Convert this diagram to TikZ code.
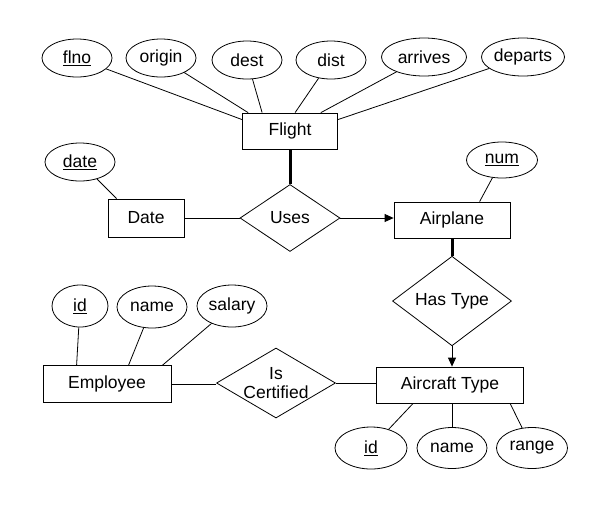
\documentclass[tikz,border=0pt]{standalone}
\usepackage{fontspec}
\setmainfont{Liberation Sans}
\usetikzlibrary{shapes.geometric,arrows.meta}
\begin{document}
\begin{tikzpicture}[x=1pt,y=-1pt,
 every node/.style={font=\fontsize{17.5}{20}\selectfont},
 attr/.style={draw,ellipse,inner sep=0pt,minimum width=70pt,minimum height=38pt,line width=0.8pt},
 entity/.style={draw,rectangle,inner sep=0pt,minimum height=36pt,line width=0.8pt},
 rel/.style={draw,diamond,inner sep=0pt,line width=0.8pt,align=center},
 link/.style={line width=0.8pt},
 boldlink/.style={line width=3pt},
 arrowlink/.style={line width=0.8pt,-{Triangle[length=9pt,width=8pt]}}]
\useasboundingbox (0,0) rectangle (604,507);
% Flight and its attributes
\node[attr] (flno) at (77,58) {\underline{flno}};
\node[attr] (origin) at (161,58) {origin};
\node[attr] (dest) at (247,60) {dest};
\node[attr] (dist) at (331,60) {dist};
\node[attr,minimum width=85pt] (arrives) at (424,57) {arrives};
\node[attr,minimum width=83pt] (departs) at (523,57) {departs};
\node[entity,minimum width=95pt] (flight) at (290,131) {Flight};
% Date
\node[attr] (date) at (80,162) {\underline{date}};
\node[entity,minimum width=76pt,minimum height=38pt] (dateE) at (146,218) {Date};
\node[rel,minimum width=100pt,minimum height=67pt] (uses) at (290,218) {Uses};
% Airplane
\node[entity,minimum width=116pt] (airplane) at (452,220) {Airplane};
\node[attr,minimum width=71pt,minimum height=36pt] (num) at (502,160) {\underline{num}};
\node[rel,minimum width=119pt,minimum height=70pt] (hastype) at (452,301) {Has Type};
% Aircraft Type
\node[entity,minimum width=147pt] (actype) at (450,385) {Aircraft Type};
\node[attr,minimum width=72pt,minimum height=42pt] (aid) at (371,448) {\underline{id}};
\node[attr,minimum height=41pt] (aname) at (452,448) {name};
\node[attr,minimum width=71pt,minimum height=41pt] (arange) at (532,448) {range};
% Employee
\node[entity,minimum width=128pt,minimum height=37pt] (emp) at (107,384) {Employee};
\node[attr,minimum width=56pt,minimum height=42pt] (eid) at (80,306) {\underline{id}};
\node[attr,minimum height=42pt] (ename) at (152,307) {name};
\node[attr,minimum height=42pt] (esal) at (232,306) {salary};
\node[rel,minimum width=119pt,minimum height=70pt,
  label={[align=center,inner sep=0pt,font=\fontsize{17.5}{19}\selectfont]center:Is\\Certified}] (cert) at (276,383) {};
% connectors
\draw[link] (flno) -- ([yshift=-7pt]flight.north west);
\draw[link] (origin) -- ([xshift=6pt]flight.north west);
\draw[link] (dest) -- ([xshift=20pt]flight.north west);
\draw[link] (dist) -- ([xshift=53pt]flight.north west);
\draw[link] (arrives) -- ([xshift=-17pt]flight.north east);
\draw[link] (departs) -- ([yshift=-7pt]flight.north east);
\draw[link] (date) -- ([xshift=9pt]dateE.north west);
\draw[link] (dateE.east) -- (uses.west);
\draw[boldlink] (flight.south) -- (uses.north);
\draw[arrowlink] (uses.east) -- (uses.east -| airplane.west);
\draw[link] (num) -- ([xshift=86pt]airplane.north west);
\draw[boldlink] (airplane.south) -- (hastype.north);
\draw[arrowlink] (hastype.south) -- (hastype.south |- actype.north);
\draw[link] (emp.east) -- (emp.east -| cert.west);
\draw[link] (cert.east) -- (cert.east -| actype.west);
\draw[link] (eid) -- ([xshift=34pt]emp.north west);
\draw[link] (ename) -- ([xshift=86pt]emp.north west);
\draw[link] (esal) -- ([xshift=120pt]emp.north west);
\draw[link] (aid) -- ([xshift=37pt]actype.south west);
\draw[link] (aname.north) -- (aname.north |- actype.south);
\draw[link] (arange) -- ([xshift=134pt]actype.south west);
\end{tikzpicture}
\end{document}
